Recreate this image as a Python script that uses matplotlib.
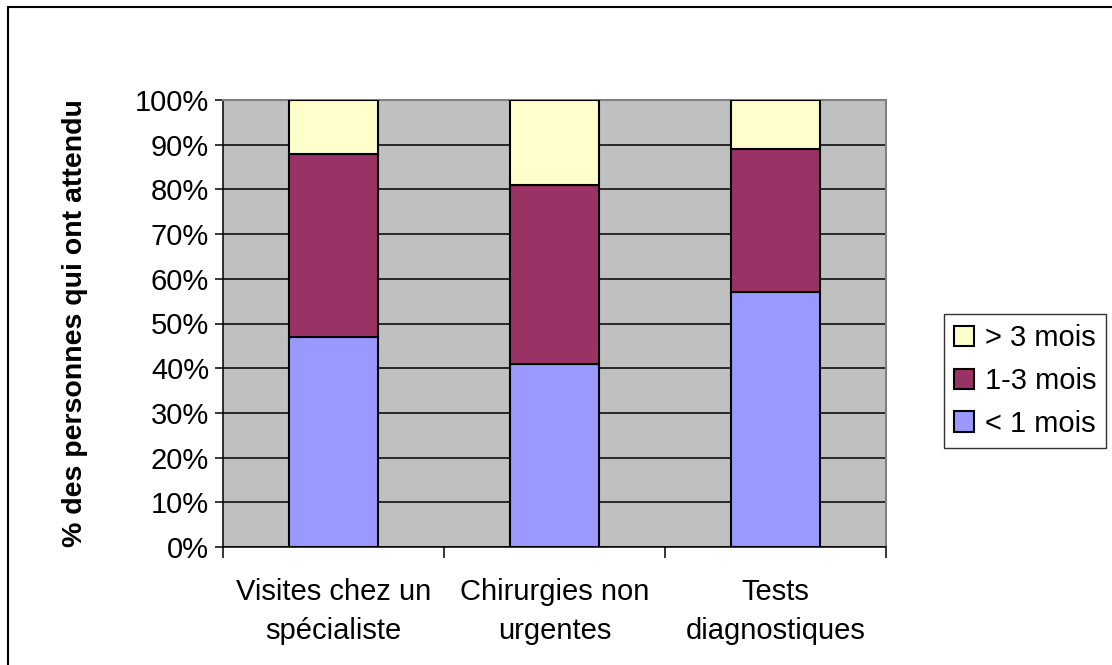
import matplotlib
matplotlib.use("Agg")
import matplotlib.pyplot as plt
from matplotlib.patches import Rectangle
import numpy as np

categories = ["Visites chez un\nspécialiste", "Chirurgies non\nurgentes", "Tests\ndiagnostiques"]
series_names = ["< 1 mois", "1-3 mois", "> 3 mois"]
lt1 = [47, 41, 57]
m1_3 = [41, 40, 32]
gt3 = [12, 19, 11]
colors = ["#9999FF", "#993366", "#FFFFCC"]
yticks = [0, 10, 20, 30, 40, 50, 60, 70, 80, 90, 100]

plt.rcParams['font.family'] = ['Liberation Sans', 'DejaVu Sans']

W, H = 1112, 665
fig = plt.figure(figsize=(W/100, H/100), dpi=100)
ax = fig.add_axes([223/W, 1-547/H, (886-223)/W, (547-100)/H])
ax.set_facecolor("#C0C0C0")

x = np.arange(len(categories))
bottom = np.zeros(len(categories))
handles = []
for vals, col, name in zip([lt1, m1_3, gt3], colors, series_names):
    b = ax.bar(x, vals, width=0.4, bottom=bottom, color=col, edgecolor="black",
               linewidth=1.5, label=name, zorder=3)
    handles.append(b)
    bottom += np.array(vals)

ax.set_xlim(-0.5, len(categories)-0.5)
ax.set_ylim(0, 100)
ax.set_yticks(yticks)
ax.set_yticklabels([f"{v}%" for v in yticks], fontsize=21)
ax.yaxis.grid(True, color="black", linewidth=1.1, zorder=1)
ax.set_axisbelow(True)

ax.set_xticks(np.arange(len(categories)+1) - 0.5)
ax.set_xticklabels([])
ax.set_xticks(x, minor=True)
ax.set_xticklabels(categories, minor=True, fontsize=21, linespacing=1.5)
ax.tick_params(axis='x', which='minor', length=0, pad=22)
ax.tick_params(axis='x', which='major', length=8, width=1.1, color="black")
ax.tick_params(axis='y', length=6, width=1.1, pad=4)

for s in ["top", "right"]:
    ax.spines[s].set_color("#808080")
    ax.spines[s].set_linewidth(1.5)
for s in ["left", "bottom"]:
    ax.spines[s].set_color("black")
    ax.spines[s].set_linewidth(1.1)

ax.set_ylabel("% des personnes qui ont attendu", fontsize=20.5, fontweight="bold", labelpad=34)

leg = fig.legend(handles[::-1], series_names[::-1], loc="center",
                 bbox_to_anchor=(1025/W, 1-381/H), fontsize=21, frameon=True,
                 fancybox=False, edgecolor="black", handlelength=0.7, handleheight=0.7,
                 handletextpad=0.35, labelspacing=0.5, borderpad=0.35, borderaxespad=0)
leg.get_frame().set_linewidth(1.0)

fig.patches.append(Rectangle((8/W, -0.1), 1.2, (1-7/H)+0.1, transform=fig.transFigure,
                             fill=False, edgecolor="black", linewidth=1.5))

fig.savefig("out.png", dpi=100)
